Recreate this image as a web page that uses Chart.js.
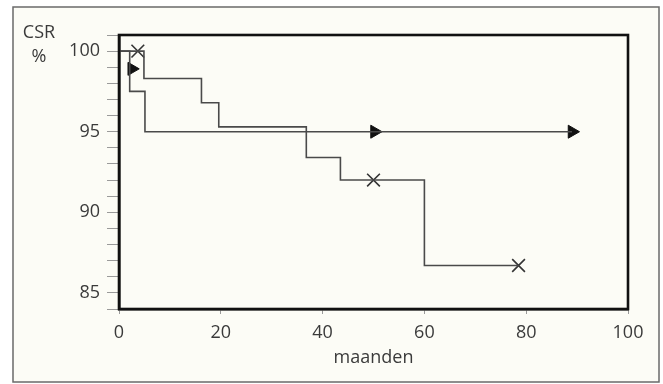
<!DOCTYPE html>
<html>
<head>
<meta charset="utf-8">
<script src="https://cdn.jsdelivr.net/npm/chart.js@4/dist/chart.umd.min.js"></script>
<style>
  html, body { margin: 0; padding: 0; background: #ffffff; }
  #wrap { position: relative; width: 663px; height: 384px; }
</style>
</head>
<body>
<div id="wrap"><canvas id="c" width="663" height="384"></canvas></div>
<script>
// ---- data ----
const xTicks = [0, 20, 40, 60, 80, 100];
const yLabelTicks = [85, 90, 95, 100];

// curve 1 (censored marks: crosses)
const monthsA = [0, 4.9, 16.2, 19.6, 36.8, 43.5, 60, 78.5];
const csrA    = [100, 98.3, 96.8, 95.3, 93.4, 92.0, 86.7, 86.7];
const censorMonthsA = [3.7, 50, 78.5];
const censorCsrA    = [100, 92.0, 86.7];

// curve 2 (censored marks: triangles)
const monthsB = [0, 2.1, 5.1, 89];
const csrB    = [100, 97.5, 95.0, 95.0];
const censorMonthsB = [2.5, 50.2, 89];
const censorCsrB    = [98.9, 95.0, 95.0];

const toPts = (xs, ys) => xs.map((x, i) => ({x: x, y: ys[i]}));

const FONT = "'Open Sans', 'DejaVu Sans', sans-serif";
const TEXT = '#3a3a3a';
const LINE = '#4a4a4a';

const framePlugin = {
  id: 'frame',
  beforeDraw(chart) {
    const ctx = chart.ctx;
    ctx.save();
    ctx.fillStyle = '#ffffff';
    ctx.fillRect(0, 0, chart.width, chart.height);
    ctx.fillStyle = '#fcfcf6';
    ctx.fillRect(13, 7, 646, 375);
    ctx.strokeStyle = '#6a6a6a';
    ctx.lineWidth = 1.5;
    ctx.strokeRect(13, 7, 646, 375);
    ctx.restore();
  },
  afterDatasetsDraw(chart) {
    const a = chart.chartArea;
    const ctx = chart.ctx;
    ctx.save();
    ctx.strokeStyle = '#111111';
    ctx.lineWidth = 2.6;
    ctx.strokeRect(a.left, a.top, a.right - a.left, a.bottom - a.top);
    ctx.fillStyle = TEXT;
    ctx.font = '18px ' + FONT;
    ctx.textAlign = 'center';
    ctx.textBaseline = 'middle';
    ctx.fillText('CSR', a.left - 80, a.top - 2);
    ctx.fillText('%', a.left - 80, a.top + 22);
    ctx.restore();
  }
};

new Chart(document.getElementById('c'), {
  type: 'line',
  data: {
    datasets: [
      {
        data: toPts(monthsA, csrA),
        stepped: 'before',
        borderColor: LINE,
        borderWidth: 1.6,
        pointRadius: 0,
        fill: false
      },
      {
        data: toPts(monthsB, csrB),
        stepped: 'before',
        borderColor: LINE,
        borderWidth: 1.6,
        pointRadius: 0,
        fill: false
      },
      {
        data: toPts(censorMonthsA, censorCsrA),
        showLine: false,
        pointStyle: 'crossRot',
        pointRadius: 9,
        pointBorderWidth: 1.6,
        borderColor: '#333333',
        backgroundColor: '#333333'
      },
      {
        data: toPts(censorMonthsB, censorCsrB),
        showLine: false,
        pointStyle: 'triangle',
        pointRotation: 90,
        pointRadius: 7.5,
        pointBorderWidth: 1,
        borderColor: '#111111',
        backgroundColor: '#111111'
      }
    ]
  },
  plugins: [framePlugin],
  options: {
    responsive: false,
    animation: false,
    events: [],
    layout: { padding: { left: 13, top: 35, right: 35, bottom: 15 } },
    plugins: { legend: { display: false }, tooltip: { enabled: false }, title: { display: false } },
    scales: {
      x: {
        type: 'linear',
        min: 0,
        max: 100,
        afterFit(s) { s.height = 60; },
        afterBuildTicks(s) { s.ticks = xTicks.map(v => ({value: v})); },
        ticks: {
          color: TEXT,
          font: { family: FONT, size: 18 },
          padding: 8,
          maxRotation: 0,
          autoSkip: false
        },
        grid: {
          drawOnChartArea: false,
          drawTicks: true,
          tickLength: 5,
          tickColor: '#9a9a9a',
          tickWidth: 1
        },
        border: { display: true, color: '#111111', width: 2.6 },
        title: {
          display: true,
          text: 'maanden',
          color: TEXT,
          font: { family: FONT, size: 18 },
          padding: 0
        }
      },
      y: {
        min: 84,
        max: 101,
        afterFit(s) { s.width = 106; },
        ticks: {
          stepSize: 1,
          color: TEXT,
          font: { family: FONT, size: 18 },
          padding: 7,
          autoSkip: false,
          callback: v => (yLabelTicks.includes(v) ? String(v) : '')
        },
        grid: {
          drawOnChartArea: false,
          drawTicks: true,
          tickLength: 12,
          tickColor: '#9a9a9a',
          tickWidth: 1
        },
        border: { display: true, color: '#111111', width: 2.6 }
      }
    }
  }
});
</script>
</body>
</html>
